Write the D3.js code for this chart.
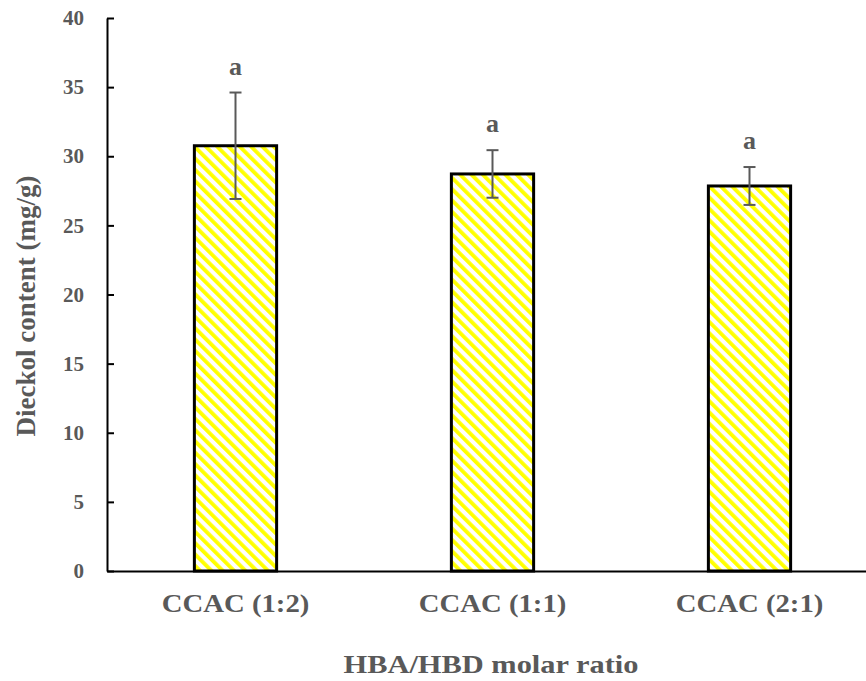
<!DOCTYPE html>
<html>
<head>
<meta charset="utf-8">
<script src="https://cdn.jsdelivr.net/npm/d3@7"></script>
<style>
  html, body { margin: 0; padding: 0; background: #fff; }
  svg { display: block; }
</style>
</head>
<body>
<svg id="chart" width="866" height="681"></svg>
<script>
// Dieckol content per HBA/HBD molar ratio
const categories = ["CCAC (1:2)", "CCAC (1:1)", "CCAC (2:1)"];
const means = [30.76, 28.72, 27.85];
const errors = [3.85, 1.72, 1.37];
const letters = ["a", "a", "a"];
const yTicks = [0, 5, 10, 15, 20, 25, 30, 35, 40];

const svg = d3.select("#chart");
const font = "'Liberation Serif', 'Times New Roman', serif";
const textColor = "#595959";

const y = d3.scaleLinear().domain([0, 40]).range([571, 18]);
const x = d3.scaleBand().domain(categories).range([107, 878]).paddingInner(0.68).paddingOuter(0.34);

// diagonal yellow hatch
const defs = svg.append("defs");
const pat = defs.append("pattern")
  .attr("id", "hatch")
  .attr("patternUnits", "userSpaceOnUse")
  .attr("width", 8).attr("height", 8)
  .attr("patternTransform", "rotate(-45)");
pat.append("rect").attr("width", 8).attr("height", 8).attr("fill", "#fff");
pat.append("rect").attr("x", 0).attr("y", 0).attr("width", 3.8).attr("height", 8).attr("fill", "#ffff00");

// bars
svg.append("g").selectAll("rect")
  .data(categories)
  .join("rect")
  .attr("x", d => x(d))
  .attr("y", (d, i) => y(means[i]))
  .attr("width", x.bandwidth())
  .attr("height", (d, i) => y(0) - y(means[i]))
  .attr("fill", "url(#hatch)")
  .attr("stroke", "#000")
  .attr("stroke-width", 3);

// axes
const yAxis = d3.axisLeft(y).tickValues(yTicks).tickSize(-7).tickPadding(23).tickSizeOuter(0);
const gy = svg.append("g").attr("transform", "translate(107,0)").call(yAxis);
gy.select(".domain").attr("stroke", "#000").attr("stroke-width", 2);
gy.selectAll(".tick line").attr("stroke", "#000").attr("stroke-width", 2);
gy.selectAll(".tick text")
  .attr("font-family", font).attr("font-weight", "bold").attr("font-size", 21)
  .attr("fill", textColor);

const xAxis = d3.axisBottom(x).tickSize(0).tickPadding(0).tickSizeOuter(0);
const gx = svg.append("g").attr("transform", "translate(0,571)").call(xAxis);
gx.select(".domain").attr("stroke", "#000").attr("stroke-width", 2);
gx.selectAll(".tick text")
  .attr("dy", null)
  .attr("y", 0)
  .attr("transform", "translate(0,41) scale(1.15,1)")
  .attr("font-family", font).attr("font-weight", "bold").attr("font-size", 25)
  .attr("fill", textColor);

// error bars
const eb = svg.append("g").attr("stroke", "#595959").attr("stroke-width", 2);
categories.forEach((c, i) => {
  const cx = x(c) + x.bandwidth() / 2;
  const top = y(means[i] + errors[i]);
  const bot = y(means[i] - errors[i]);
  eb.append("line").attr("x1", cx).attr("x2", cx).attr("y1", top).attr("y2", bot);
  eb.append("line").attr("x1", cx - 6).attr("x2", cx + 6).attr("y1", top).attr("y2", top);
  eb.append("line").attr("x1", cx - 6).attr("x2", cx + 6).attr("y1", bot).attr("y2", bot);
});

// significance letters
svg.append("g").selectAll("text")
  .data(categories)
  .join("text")
  .attr("x", d => x(d) + x.bandwidth() / 2)
  .attr("y", (d, i) => y(means[i] + errors[i]) - 18)
  .attr("text-anchor", "middle")
  .attr("font-family", font).attr("font-weight", "bold").attr("font-size", 26)
  .attr("fill", textColor)
  .text((d, i) => letters[i]);

// axis titles
svg.append("text")
  .attr("transform", "translate(35,306) rotate(-90)")
  .attr("text-anchor", "middle")
  .attr("font-family", font).attr("font-weight", "bold").attr("font-size", 27)
  .attr("fill", textColor)
  .text("Dieckol content (mg/g)");

svg.append("text")
  .attr("transform", "translate(491,673) scale(1.17,1)")
  .attr("text-anchor", "middle")
  .attr("font-family", font).attr("font-weight", "bold").attr("font-size", 26)
  .attr("fill", textColor)
  .text("HBA/HBD molar ratio");
</script>
</body>
</html>
